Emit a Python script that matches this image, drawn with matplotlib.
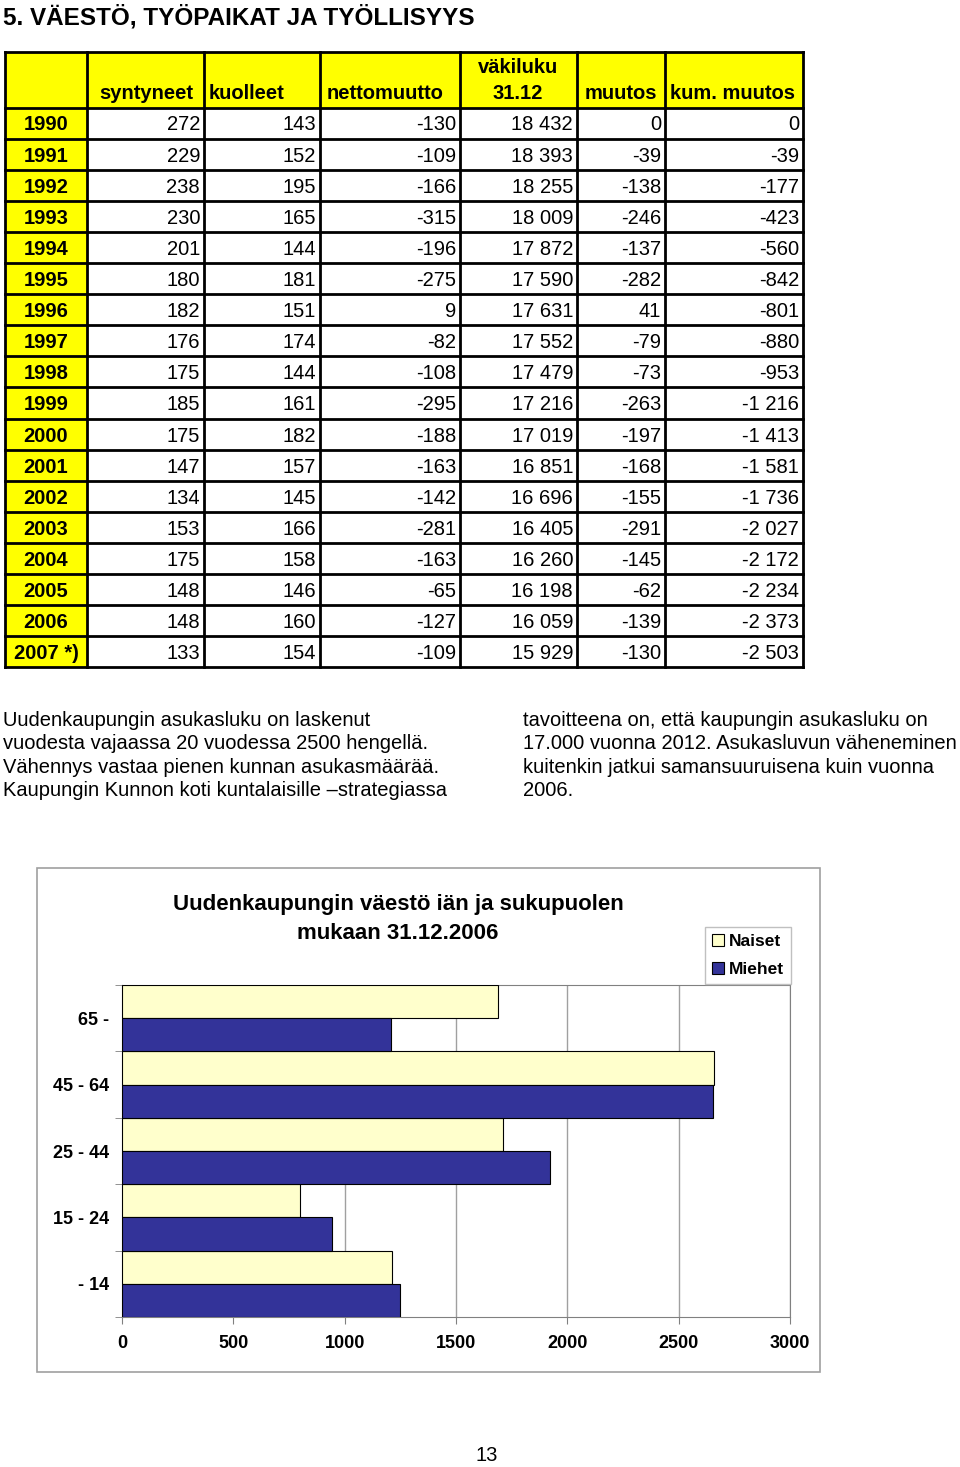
import matplotlib
matplotlib.use("Agg")
import matplotlib.pyplot as plt
from matplotlib.patches import Rectangle

W, H = 960, 1467

page_title = "5. VÄESTÖ, TYÖPAIKAT JA TYÖLLISYYS"

# table data
col_headers = ["", "syntyneet", "kuolleet", "nettomuutto", "väkiluku\n31.12", "muutos", "kum. muutos"]
years = ["1990", "1991", "1992", "1993", "1994", "1995", "1996", "1997", "1998",
         "1999", "2000", "2001", "2002", "2003", "2004", "2005", "2006", "2007 *)"]
syntyneet = [272, 229, 238, 230, 201, 180, 182, 176, 175, 185, 175, 147, 134, 153, 175, 148, 148, 133]
kuolleet = [143, 152, 195, 165, 144, 181, 151, 174, 144, 161, 182, 157, 145, 166, 158, 146, 160, 154]
nettomuutto = [-130, -109, -166, -315, -196, -275, 9, -82, -108, -295, -188, -163, -142, -281, -163, -65, -127, -109]
vakiluku = [18432, 18393, 18255, 18009, 17872, 17590, 17631, 17552, 17479, 17216, 17019, 16851,
            16696, 16405, 16260, 16198, 16059, 15929]
muutos = [0, -39, -138, -246, -137, -282, 41, -79, -73, -263, -197, -168, -155, -291, -145, -62, -139, -130]
kum_muutos = [0, -39, -177, -423, -560, -842, -801, -880, -953, -1216, -1413, -1581, -1736, -2027,
              -2172, -2234, -2373, -2503]

text_left = [
    "Uudenkaupungin asukasluku on laskenut",
    "vuodesta vajaassa 20 vuodessa 2500 hengellä.",
    "Vähennys vastaa pienen kunnan asukasmäärää.",
    "Kaupungin Kunnon koti kuntalaisille \u2013strategiassa",
]
text_right = [
    "tavoitteena on, että kaupungin asukasluku on",
    "17.000 vuonna 2012. Asukasluvun väheneminen",
    "kuitenkin jatkui samansuuruisena kuin vuonna",
    "2006.",
]

# chart data
chart_title = ["Uudenkaupungin väestö iän ja sukupuolen", "mukaan 31.12.2006"]
age_groups = ["- 14", "15 - 24", "25 - 44", "45 - 64", "65 -"]
naiset = [1211, 801, 1713, 2659, 1690]
miehet = [1250, 943, 1924, 2654, 1207]
page_number = "13"

FONT = ["Liberation Sans", "DejaVu Sans"]
plt.rcParams["font.family"] = FONT


def fmt(v):
    s = f"{abs(v):,}".replace(",", " ")
    return "-" + s if v < 0 else s


fig = plt.figure(figsize=(W / 100, H / 100), dpi=100)
page = fig.add_axes([0, 0, 1, 1])
page.set_xlim(0, W)
page.set_ylim(H, 0)
page.axis("off")

page.text(3, 24, page_title, fontsize=17.5, fontweight="bold", va="baseline")

# --- table ---
col_edges = [5, 87, 204, 320, 460, 577, 665, 803]
head_x = [46, 146, 247, 385, 518, 621, 733]
top, head_bot, row_h = 52, 107.5, 31.1
n_rows = len(years)
bottom = head_bot + n_rows * row_h

page.add_patch(Rectangle((col_edges[0], top), col_edges[-1] - col_edges[0], head_bot - top,
                         facecolor="#FFFF00", edgecolor="none"))
page.add_patch(Rectangle((col_edges[0], head_bot), col_edges[1] - col_edges[0], bottom - head_bot,
                         facecolor="#FFFF00", edgecolor="none"))
for x in col_edges:
    page.plot([x, x], [top, bottom], color="black", lw=2)
page.plot([col_edges[0], col_edges[-1]], [top, top], color="black", lw=2)
for i in range(n_rows + 1):
    y = head_bot + i * row_h
    page.plot([col_edges[0], col_edges[-1]], [y, y], color="black", lw=2)

for j, h in enumerate(col_headers):
    lines = h.split("\n")
    for k, line in enumerate(reversed(lines)):
        page.text(head_x[j], 99 - k * 26, line, fontsize=14.5, fontweight="bold",
                  ha="center", va="baseline")

columns = [syntyneet, kuolleet, nettomuutto, vakiluku, muutos, kum_muutos]
for i in range(n_rows):
    yb = head_bot + i * row_h + 23
    page.text(head_x[0], yb, years[i], fontsize=14.5, fontweight="bold", ha="center", va="baseline")
    for j, col in enumerate(columns):
        page.text(col_edges[j + 2] - 4, yb, fmt(col[i]), fontsize=14.5, ha="right", va="baseline")

# --- paragraphs ---
for k, line in enumerate(text_left):
    page.text(3, 726 + k * 23.3, line, fontsize=14.5, va="baseline")
for k, line in enumerate(text_right):
    page.text(523, 726 + k * 23.3, line, fontsize=14.5, va="baseline")

page.text(487, 1461, page_number, fontsize=14.5, ha="center", va="baseline")

# --- chart ---
page.add_patch(Rectangle((37, 868), 783, 504, facecolor="none", edgecolor="#A0A0A0", lw=1.2))
page.text(398, 910, chart_title[0], fontsize=16, fontweight="bold", ha="center", va="baseline")
page.text(398, 939, chart_title[1], fontsize=16, fontweight="bold", ha="center", va="baseline")

ax = fig.add_axes([122 / W, 1 - 1317 / H, 668 / W, 332 / H])
ypos = list(range(len(age_groups)))
bn = ax.barh([y + 0.25 for y in ypos], naiset, height=0.5, color="#FFFFCC",
             edgecolor="black", lw=0.8, label="Naiset", zorder=3)
bm = ax.barh([y - 0.25 for y in ypos], miehet, height=0.5, color="#333399",
             edgecolor="black", lw=0.8, label="Miehet", zorder=3)
ax.set_xlim(0, 3000)
ax.set_ylim(-0.5, len(age_groups) - 0.5)
ax.set_xticks(range(0, 3001, 500))
ax.grid(axis="x", color="#A0A0A0", lw=1, zorder=0)
for s in ax.spines.values():
    s.set_color("#808080")
ax.spines["left"].set_color("#404040")
ax.set_yticks(ypos)
ax.set_yticklabels(age_groups)
ax.set_yticks([y - 0.5 for y in range(len(age_groups) + 1)], minor=True)
ax.tick_params(axis="y", which="major", length=0, pad=9)
ax.tick_params(axis="y", which="minor", length=5, color="#808080", direction="out")
ax.tick_params(axis="x", length=5, color="#808080", pad=8)
for lab in ax.get_xticklabels() + ax.get_yticklabels():
    lab.set_fontsize(13)
    lab.set_fontweight("bold")

leg = fig.legend(handles=[bn, bm], loc="upper left", bbox_to_anchor=(705 / W, 1 - 927 / H),
                 frameon=True, fancybox=False, edgecolor="#C0C0C0", framealpha=1,
                 handlelength=0.7, handleheight=0.7, handletextpad=0.3, borderpad=0.4,
                 labelspacing=0.75, borderaxespad=0,
                 prop={"weight": "bold", "size": 12.5})
leg.get_frame().set_linewidth(1)

fig.savefig("out.png", dpi=100)
